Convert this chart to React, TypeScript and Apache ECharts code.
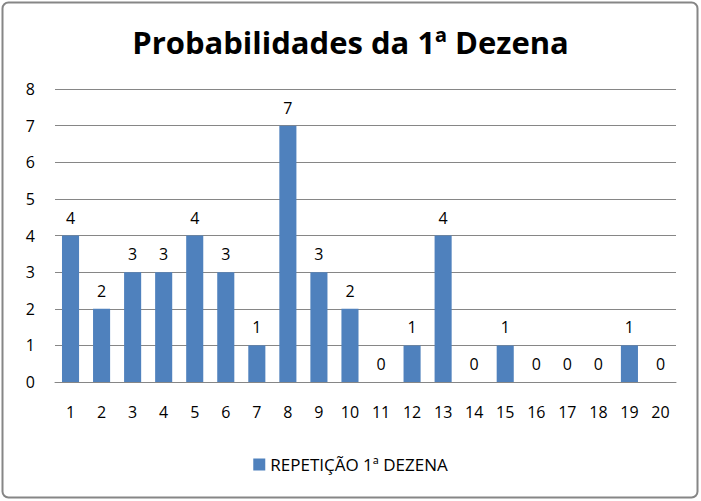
import React, { useEffect, useRef } from "react";
import * as echarts from "echarts";

const categories = ["1","2","3","4","5","6","7","8","9","10","11","12","13","14","15","16","17","18","19","20"];
const values = [4,2,3,3,4,3,1,7,3,2,0,1,4,0,1,0,0,0,1,0];
const seriesName = "REPETIÇÃO 1ª DEZENA";
const titleText = "Probabilidades da 1ª Dezena";

export default function App() {
  const ref = useRef<HTMLDivElement>(null);
  useEffect(() => {
    const chart = echarts.init(ref.current!, null, { renderer: "svg" });
    const font = "Open Sans, sans-serif";
    chart.setOption({
      animation: false,
      backgroundColor: "#ffffff",
      title: {
        text: titleText,
        left: "center",
        top: 21,
        textStyle: { fontFamily: font, fontSize: 31, fontWeight: "bold", color: "#000" },
      },
      graphic: [
        {
          type: "rect",
          shape: { x: 2.5, y: 2.5, width: 695, height: 495, r: 6 },
          style: { fill: "none", stroke: "#868686", lineWidth: 2 },
          silent: true,
        },
      ],
      legend: {
        bottom: 23,
        left: "center",
        itemWidth: 12,
        itemHeight: 12,
        itemGap: 6,
        icon: "rect",
        textStyle: { fontFamily: font, fontSize: 17, color: "#000" },
        data: [seriesName],
      },
      grid: { left: 55, right: 25, top: 89, bottom: 119, containLabel: false },
      xAxis: {
        type: "category",
        data: categories,
        axisLine: { lineStyle: { color: "#868686" } },
        axisTick: { show: false },
        axisLabel: { fontFamily: font, fontSize: 16, color: "#000", margin: 22 },
      },
      yAxis: {
        type: "value",
        min: 0,
        max: 8,
        interval: 1,
        axisLine: { show: false },
        axisTick: { show: false },
        axisLabel: { fontFamily: font, fontSize: 16, color: "#000", margin: 20 },
        splitLine: { lineStyle: { color: "#868686" } },
      },
      series: [
        {
          name: seriesName,
          type: "bar",
          data: values,
          barWidth: "55%",
          itemStyle: { color: "#4f81bd" },
          label: {
            show: true,
            position: "top",
            distance: 10,
            fontFamily: font,
            fontSize: 16,
            color: "#000",
          },
        },
      ],
    });
    return () => chart.dispose();
  }, []);
  return <div ref={ref} style={{ width: 701, height: 501, position: "absolute", left: 0, top: 0 }} />;
}
